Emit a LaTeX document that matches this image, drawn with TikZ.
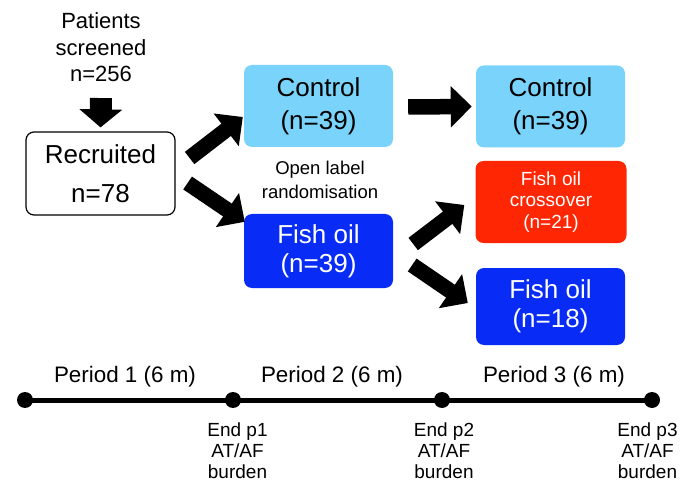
\documentclass[tikz,border=0pt]{standalone}
\usepackage{fontspec}
\setmainfont{Liberation Sans}
\usetikzlibrary{arrows.meta,positioning}
\definecolor{ctrlblue}{RGB}{122,211,250}
\definecolor{fishblue}{RGB}{8,44,245}
\definecolor{crossred}{RGB}{255,38,4}
\tikzset{
  centered/.style = { align=center, anchor=center, inner sep=0pt },
      note/.style = { centered, font=\fontsize{22}{26.5}\selectfont },
   groupbox/.style = { centered, rounded corners=8pt, minimum width=149pt,
                      font=\fontsize{26}{33}\selectfont },
    recbox/.style = { groupbox, draw=black, line width=1.2pt, fill=white,
                      minimum height=83pt, font=\fontsize{26}{39}\selectfont },
   ctrlbox/.style = { groupbox, fill=ctrlblue, minimum height=82pt },
   fishbox/.style = { groupbox, fill=fishblue, text=white, minimum height=74pt,
                      font=\fontsize{26}{29}\selectfont },
  crossbox/.style = { groupbox, fill=crossred, text=white, minimum width=151pt,
                      minimum height=82pt, font=\fontsize{19}{21.5}\selectfont },
     block/.style = { line width=15.5pt, -{Triangle[length=21pt,width=40pt]} },
      drop/.style = { line width=22pt, -{Triangle[length=18pt,width=42pt]} },
       dot/.style = { circle, fill=black, inner sep=0pt, minimum size=16pt },
    period/.style = { anchor=base, inner sep=0pt, font=\fontsize{22.4}{26}\selectfont },
   endnote/.style = { centered, anchor=north, font=\fontsize{19}{21}\selectfont },
}

\begin{document}
\begin{tikzpicture}[x=1pt,y=-1pt]
  \useasboundingbox (0,0) rectangle (694,484);

  % flow chart
  \node[note, anchor=north] (patients) at (101,12.5) {Patients\\screened\\n=256};
  \node[recbox]   (recruited) at (100.5,173.5) {Recruited\\n=78};
  \node[ctrlbox]  (control)   at (318.5,106)   {Control\\(n=39)};
  \node[fishbox]  (fishoil)   at (318.5,251)   {Fish oil\\(n=39)};
  \node[note, font=\fontsize{18.5}{24}\selectfont] (randomise) at (320,180)
    {Open label\\randomisation};
  \node[ctrlbox]  (controlB)  at (550.5,106.5) {Control\\(n=39)};
  \node[crossbox] (crossover) at (551,202)     {Fish oil\\crossover\\(n=21)};
  \node[fishbox, minimum height=77pt] (fishoilB) at (550.5,306.5) {Fish oil\\(n=18)};

  \draw[drop]  ([yshift=-16pt]patients.south) -- ([yshift=4pt]recruited.north);
  \draw[block] ([xshift=14pt,yshift=15.5pt]recruited.east) -- ([xshift=-1pt,yshift=-11pt]control.west);
  \draw[block] ([xshift=12pt,yshift=-9.5pt]recruited.east) -- ([xshift=1pt,yshift=-8pt]fishoil.north west);
  \draw[block] ([xshift=15pt,yshift=-1pt]control.east) -- ([xshift=-4pt]controlB.west);
  \draw[block] ([xshift=20pt,yshift=7pt]fishoil.east) -- ([xshift=-11pt,yshift=-3pt]crossover.west);
  \draw[block] ([xshift=19pt,yshift=-14pt]fishoil.east) -- ([xshift=-8pt,yshift=3.5pt]fishoilB.west);

  % time line
  \foreach \n/\x in {0/25,1/233,2/442,3/652}
    \node[dot] (t\n) at (\x,400) {};
  \draw[line width=5pt] (t0.center) -- (t3.center);
  \foreach \i/\x in {1/125,2/332,3/554}
    \node[period] (period\i) at (\x,382) {Period \i\ (6 m)};
  \foreach \i/\x in {1/237.5,2/444,3/647.5}
    \node[endnote] (end\i) at (\x,423) {End p\i\\AT/AF\\burden};

\end{tikzpicture}
\end{document}
